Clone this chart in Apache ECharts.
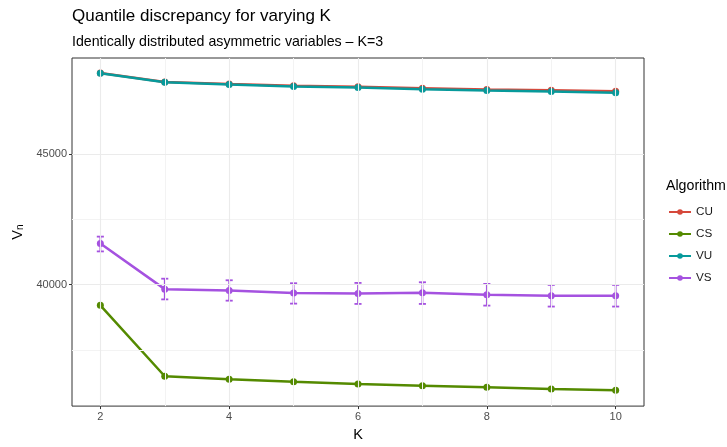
<!DOCTYPE html>
<html>
<head>
<meta charset="utf-8">
<script src="https://cdn.jsdelivr.net/npm/echarts@6/dist/echarts.min.js"></script>
<style>html,body{margin:0;padding:0;background:#fff}#c{width:727px;height:447px}</style>
</head>
<body>
<div id="c"></div>
<script>
const kValues = [2, 3, 4, 5, 6, 7, 8, 9, 10];
const cu = [48110, 47770, 47690, 47620, 47580, 47530, 47480, 47450, 47410];
const cs = [39208, 36489, 36376, 36277, 36187, 36126, 36062, 35998, 35949];
const vu = [48100, 47757, 47666, 47590, 47553, 47492, 47439, 47402, 47352];
const vs = [41575, 39827, 39774, 39676, 39661, 39687, 39612, 39574, 39574];
const vsLo = [41273, 39434, 39385, 39272, 39260, 39260, 39196, 39159, 39159];
const vsHi = [41840, 40227, 40167, 40053, 40065, 40091, 40027, 39989, 39989];
const xTicks = [2, 4, 6, 8, 10];
const xMinor = [3, 5, 7, 9];
const yTicks = [40000, 45000];
const yMinor = [37500, 42500];
const seriesNames = ['CU', 'CS', 'VU', 'VS'];
const colors = {CU: '#d6493c', CS: '#548a00', VU: '#079a9b', VS: '#a552e0'};

const pairs = a => kValues.map((k, i) => [k, a[i]]);
const font = 'Liberation Sans, Arial, sans-serif';

function lineSeries(name, arr) {
  return {
    name, type: 'line', data: pairs(arr), symbol: 'circle', symbolSize: 7,
    itemStyle: {color: colors[name], borderWidth: 0, opacity: 1}, lineStyle: {color: colors[name], width: 2.5},
    emphasis: {disabled: true},
    z: 3, animation: false
  };
}

const gridMarks = [];
xMinor.forEach(v => gridMarks.push({xAxis: v, lineStyle: {color: '#f3f3f3', width: 1, type: 'solid'}}));
yMinor.forEach(v => gridMarks.push({yAxis: v, lineStyle: {color: '#f3f3f3', width: 1, type: 'solid'}}));
xTicks.forEach(v => gridMarks.push({xAxis: v, lineStyle: {color: '#ebebeb', width: 1.1, type: 'solid'}}));
yTicks.forEach(v => gridMarks.push({yAxis: v, lineStyle: {color: '#ebebeb', width: 1.1, type: 'solid'}}));

const plain = v => String(v);

const chart = echarts.init(document.getElementById('c'), null, {renderer: 'canvas'});
chart.setOption({
  animation: false,
  backgroundColor: '#ffffff',
  title: [
    {text: 'Quantile discrepancy for varying K', left: 72, top: 8, padding: 0,
     textStyle: {fontFamily: font, fontSize: 17, fontWeight: 'normal', color: '#000'}},
    {text: 'Identically distributed asymmetric variables \u2013 K=3', left: 72, top: 35, padding: 0,
     textStyle: {fontFamily: font, fontSize: 14.2, fontWeight: 'normal', color: '#000'}},
    {text: 'Algorithm', left: 666, top: 179, padding: 0,
     textStyle: {fontFamily: font, fontSize: 14.2, fontWeight: 'normal', color: '#000'}}
  ],
  legend: {
    data: seriesNames, orient: 'vertical', left: 668, top: 206, padding: 0,
    itemWidth: 22, itemHeight: 7, itemGap: 10,
    textStyle: {fontFamily: font, fontSize: 11.7, color: '#1a1a1a'}
  },
  grid: {left: 72, right: 83, top: 58, bottom: 36, show: true, borderColor: '#333333', borderWidth: 1, backgroundColor: 'transparent', containLabel: false},
  xAxis: {
    type: 'value', min: 1.56, max: 10.44,
    name: 'K', nameLocation: 'middle', nameGap: 15,
    nameTextStyle: {fontFamily: font, fontSize: 14.5, color: '#000'},
    axisLine: {show: false},
    axisTick: {show: true, length: 3, customValues: xTicks, lineStyle: {color: '#333'}},
    axisLabel: {customValues: xTicks, margin: 5, fontFamily: font, fontSize: 11, color: '#4d4d4d', formatter: plain},
    splitLine: {show: false}
  },
  yAxis: {
    type: 'value', min: 35344, max: 48686,
    name: 'V{s|n}', nameLocation: 'middle', nameGap: 35, nameRotate: 90,
    nameTextStyle: {fontFamily: font, fontSize: 14.5, color: '#000',
      rich: {s: {fontFamily: font, fontSize: 10, color: '#000', verticalAlign: 'bottom', padding: [6, 0, 0, 0]}}},
    axisLine: {show: false},
    axisTick: {show: true, length: 3, customValues: yTicks, lineStyle: {color: '#333'}},
    axisLabel: {customValues: yTicks, margin: 5, fontFamily: font, fontSize: 11, color: '#4d4d4d', formatter: plain},
    splitLine: {show: false}
  },
  series: [
    {type: 'line', data: [], silent: true, markLine: {silent: true, symbol: 'none', label: {show: false}, emphasis: {disabled: true}, data: gridMarks}, z: 0},
    lineSeries('CU', cu),
    lineSeries('CS', cs),
    lineSeries('VU', vu),
    {
      type: 'custom', name: 'VSerr', z: 4, silent: true,
      data: kValues.map((k, i) => [k, vsLo[i], vsHi[i]]),
      encode: {x: 0, y: [1, 2]},
      renderItem: function (params, api) {
        const x = api.value(0);
        const lo = api.coord([x, api.value(1)]);
        const hi = api.coord([x, api.value(2)]);
        const l = api.coord([x - 0.055, api.value(1)])[0];
        const r = api.coord([x + 0.055, api.value(1)])[0];
        const st = {stroke: colors.VS, lineWidth: 1.8, lineDash: null, opacity: 1};
        return {type: 'group', children: [
          {type: 'line', shape: {x1: lo[0], y1: lo[1], x2: hi[0], y2: hi[1]}, style: st},
          {type: 'line', shape: {x1: l, y1: lo[1], x2: r, y2: lo[1]}, style: st},
          {type: 'line', shape: {x1: l, y1: hi[1], x2: r, y2: hi[1]}, style: st}
        ]};
      }
    },
    lineSeries('VS', vs)
  ]
});
</script>
</body>
</html>
